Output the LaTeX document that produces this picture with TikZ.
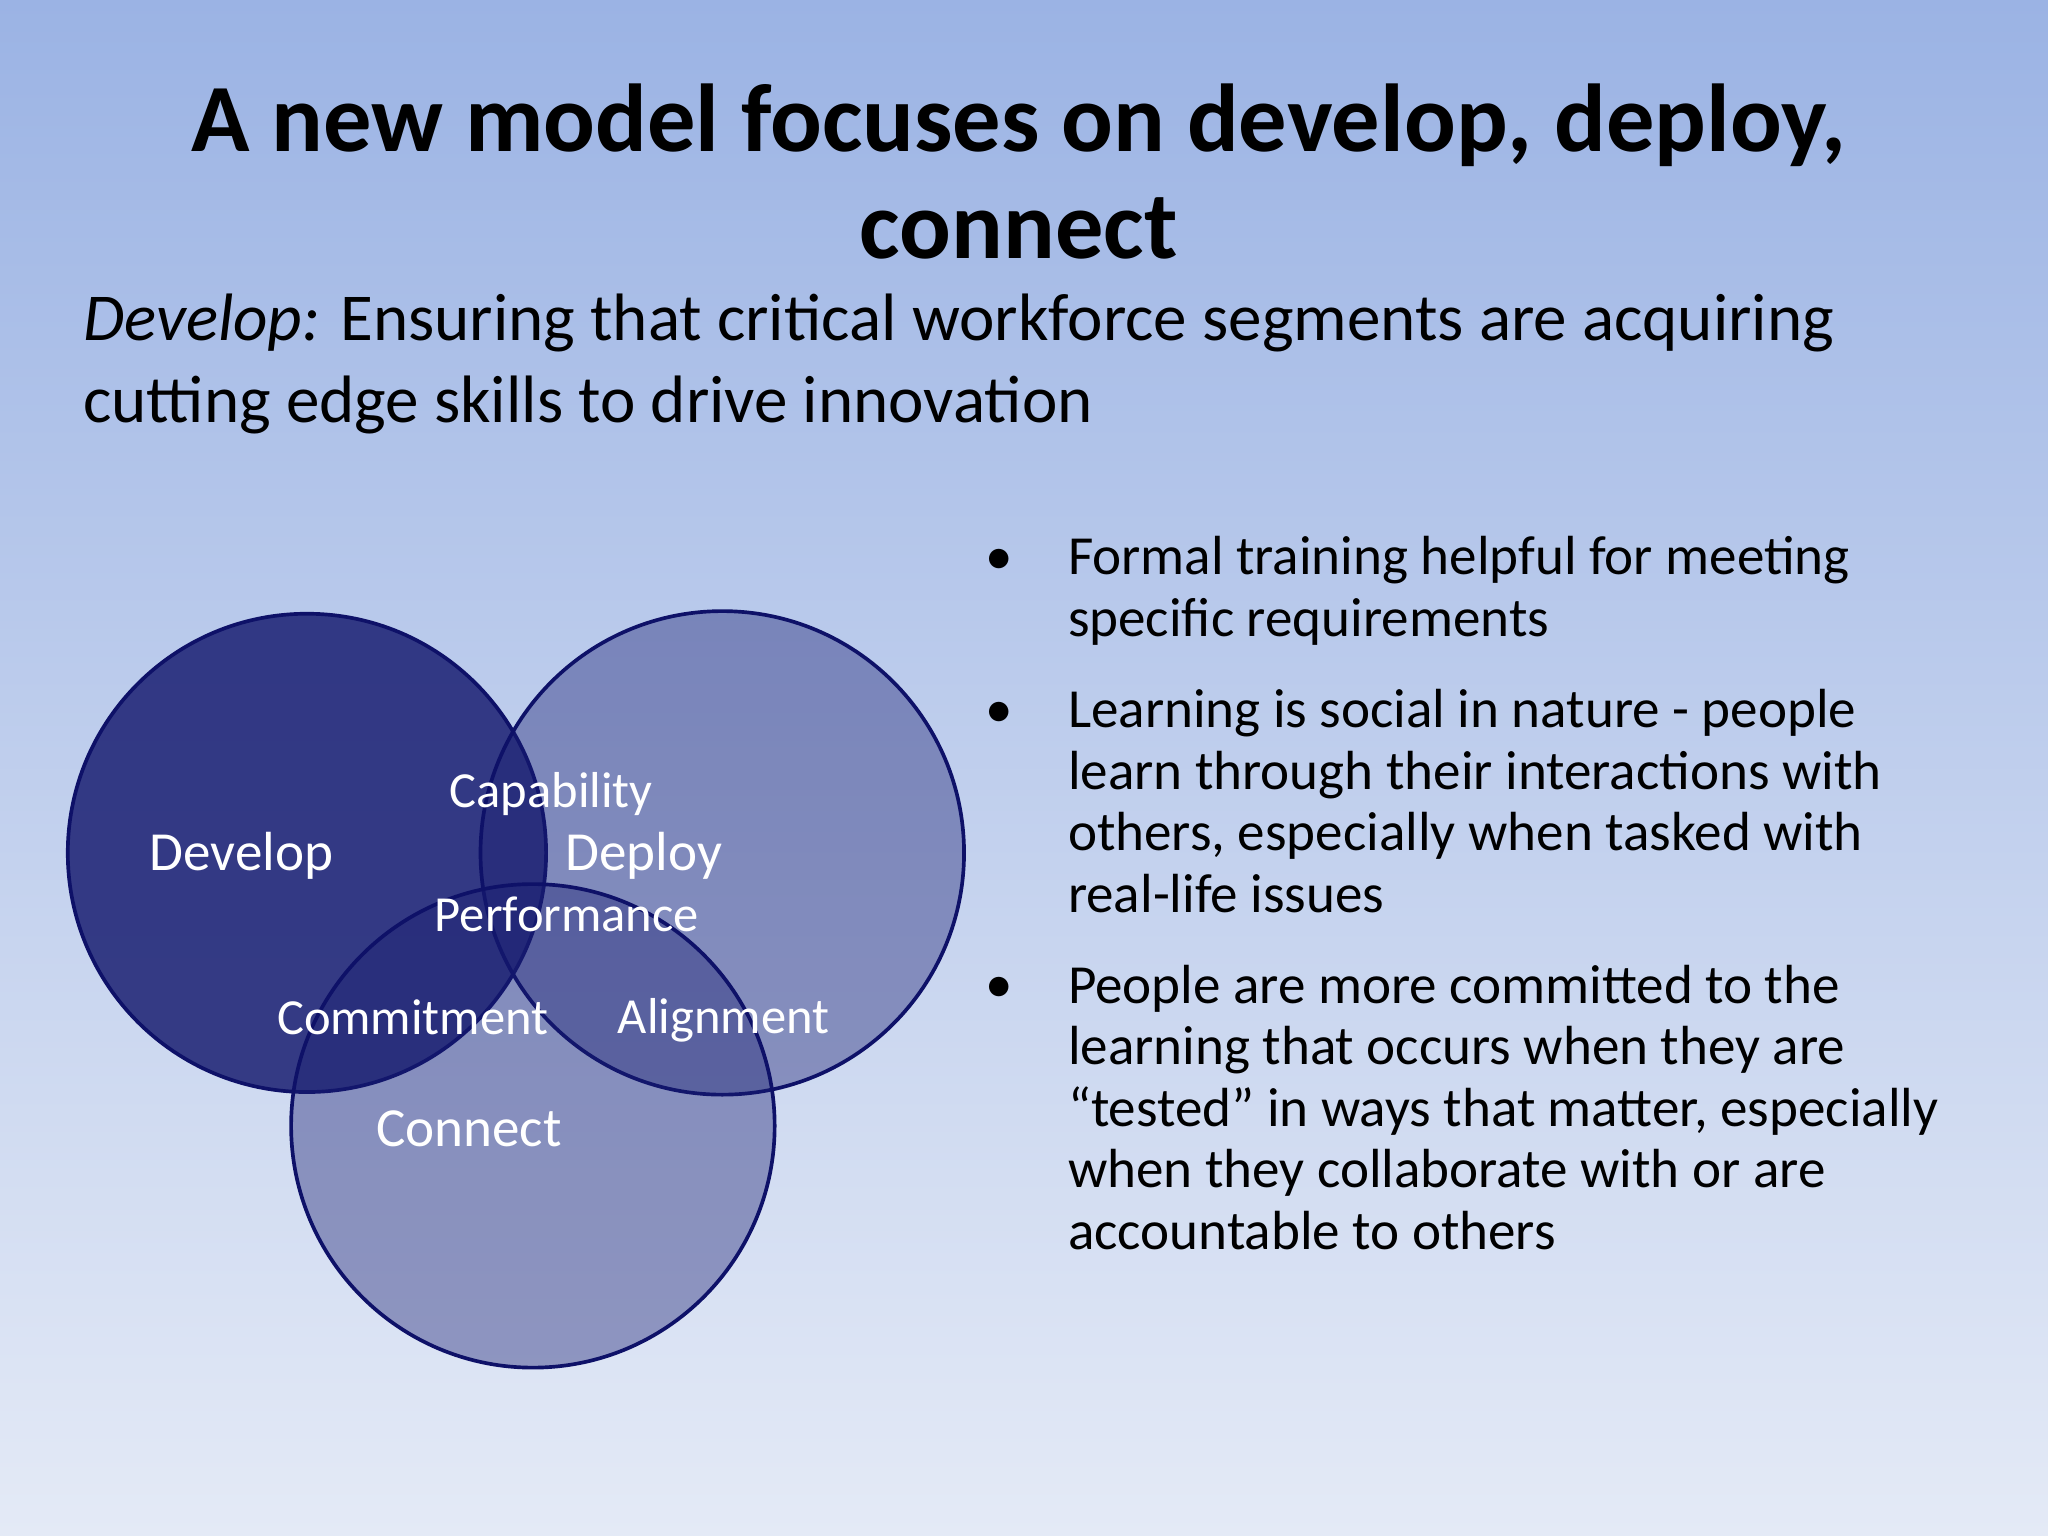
\documentclass[tikz,border=0pt]{standalone}
\usepackage{fontspec}
\setmainfont{Carlito}
\definecolor{bgtop}{HTML}{9BB3E4}
\definecolor{bgbot}{HTML}{E4EAF6}
\definecolor{venn}{HTML}{1A1F72}
\definecolor{rim}{HTML}{0E1168}
\tikzstyle{ring} = [draw=rim, draw opacity=1, fill=venn, thick]
\tikzstyle{tag} = [text=white, font=\fontsize{11}{13}\selectfont, inner sep=0pt]
\tikzstyle{bullet} = [anchor=north west, align=left, inner sep=0pt, font=\fontsize{12}{13.4}\selectfont]

\begin{document}
\begin{tikzpicture}[x=0.01cm, y=-0.01cm]

    % Background
    \shade[top color=bgtop, bottom color=bgbot] (0,0) rectangle (1568,1176);
    \useasboundingbox (0,0) rectangle (1568,1176);

    % Heading
    \node (title) [align=center, font=\bfseries\fontsize{21}{23.3}\selectfont] at (780,131) {A new model focuses on develop, deploy,\\connect};
    \node (intro) [anchor=north west, align=left, inner sep=0pt, font=\fontsize{14.6}{18}\selectfont] at (63,224) {\textit{Develop:} Ensuring that critical workforce segments are acquiring\\cutting edge skills to drive innovation};

    % Circles
    \path[ring, fill opacity=0.85] (235,653) circle [radius=1.83cm];
    \path[ring, fill opacity=0.4] (553,653) circle [radius=1.85cm];
    \path[ring, fill opacity=0.4] (408,862) circle [radius=1.85cm];

    % Labels
    \node (develop) [tag, font=\fontsize{12}{14}\selectfont] at (185,655) {Develop};
    \node (capability) [tag] at (422,608) {Capability};
    \node (deploy) [tag, font=\fontsize{12}{14}\selectfont] at (493,655) {Deploy};
    \node (performance) [tag] at (434,700) {Performance};
    \node (commitment) [tag] at (316,779) {Commitment};
    \node (alignment) [tag] at (554,781) {Alignment};
    \node (connect) [tag, font=\fontsize{12}{14}\selectfont] at (359,864) {Connect};

    % Bullets
    \node (b1) [bullet] at (817,410) {Formal training helpful for meeting\\specific requirements};
    \node (b2) [bullet] at (817,527) {Learning is social in nature - people\\learn through their interactions with\\others, especially when tasked with\\real-life issues};
    \node (b3) [bullet] at (817,738) {People are more committed to the\\learning that occurs when they are\\“tested” in ways that matter, especially\\when they collaborate with or are\\accountable to others};
    \foreach \y in {430,547,758}
        \node [font=\fontsize{12}{14}\selectfont] at (765,\y) {•};

\end{tikzpicture}
\end{document}
